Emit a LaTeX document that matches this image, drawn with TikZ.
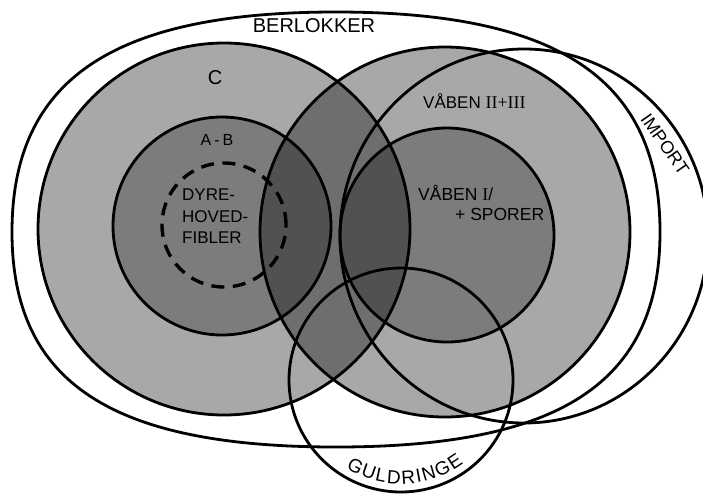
\documentclass[tikz,border=0pt]{standalone}
\usepackage{fontspec}
\setmainfont{Liberation Sans}
\newfontfamily\romfont{Liberation Serif}
\usetikzlibrary{decorations.text}
\newcommand{\fsz}[1]{\fontsize{#1}{#1}\selectfont}
\begin{document}
\begin{tikzpicture}[x=1pt,y=-1pt,
  shadefill/.style={fill=black, fill opacity=0.34},
  innerfill/.style={fill=black, fill opacity=0.26},
  ring/.style={draw=black, line width=2.8pt},
  dashring/.style={draw=black, line width=3.4pt, dash pattern=on 13pt off 8.5pt},
  lab/.style={inner sep=0pt, text=black}]
\useasboundingbox (0,0) rectangle (703,493);
\fill[white] (0,0) rectangle (703,493);
\coordinate (cC) at (224,229);
\coordinate (cAB) at (222,226);
\coordinate (cD) at (224,225);
\coordinate (cV) at (445,232);
\coordinate (cVI) at (447,235);
\coordinate (cI) at (524,236);
\coordinate (cG) at (401,380);
% shading
\fill[shadefill] (cC) circle[radius=186pt];
\fill[shadefill] (cV) circle[radius=185pt];
\fill[innerfill] (cAB) circle[radius=109pt];
\fill[innerfill] (cVI) circle[radius=107pt];
% outlines
\draw[ring] (660,232) .. controls (660,80) and (560,12) .. (336,12)
  .. controls (112,12) and (12,80) .. (12,232)
  .. controls (12,383) and (112,447) .. (336,447)
  .. controls (560,447) and (660,383) .. (660,232) -- cycle;
\draw[ring] (cC) circle[radius=186pt];
\draw[ring] (cV) circle[radius=185pt];
\draw[ring] (cAB) circle[radius=109pt];
\draw[ring] (cVI) circle[radius=107pt];
\draw[ring] (cI) ellipse[x radius=184pt, y radius=187pt];
\draw[ring] (cG) circle[radius=112pt];
\draw[dashring] (cD) circle[radius=62pt];
% labels
\node[lab, font=\fsz{20}] (tBer) at (314,26) {BERLOKKER};
\node[lab, font=\fsz{20}] (tC) at (215,78) {C};
\node[lab, font=\fsz{16}] (tAB) at (217,140) {A\hspace{3pt}-\hspace{3pt}B};
\node[lab, font=\fsz{17}, anchor=base west] (tD1) at (182,200) {DYRE-};
\node[lab, font=\fsz{17}, anchor=base west] (tD2) at (182,222) {HOVED-};
\node[lab, font=\fsz{17}, anchor=base west] (tD3) at (182,243) {FIBLER};
\node[lab, font=\fsz{17}, anchor=base west] (tV23) at (423,108) {VÅBEN {\romfont\fsz{18}II+III}};
\node[lab, font=\fsz{17.5}, anchor=base west] (tV1a) at (418,200) {VÅBEN {\romfont\fsz{18}I}/};
\node[lab, font=\fsz{17.5}, anchor=base west] (tV1b) at (455,220) {+ SPORER};
\node[lab, font=\fsz{18}, rotate=-55] (tImp) at (665,144) {IMPORT};
\path[decorate, decoration={text along path, text align={fit to path},
   text={|\fsz{19}|GULDRINGE}}]
   (cG) ++(122:104) arc[start angle=122, end angle=53, radius=104];
\end{tikzpicture}
\end{document}
